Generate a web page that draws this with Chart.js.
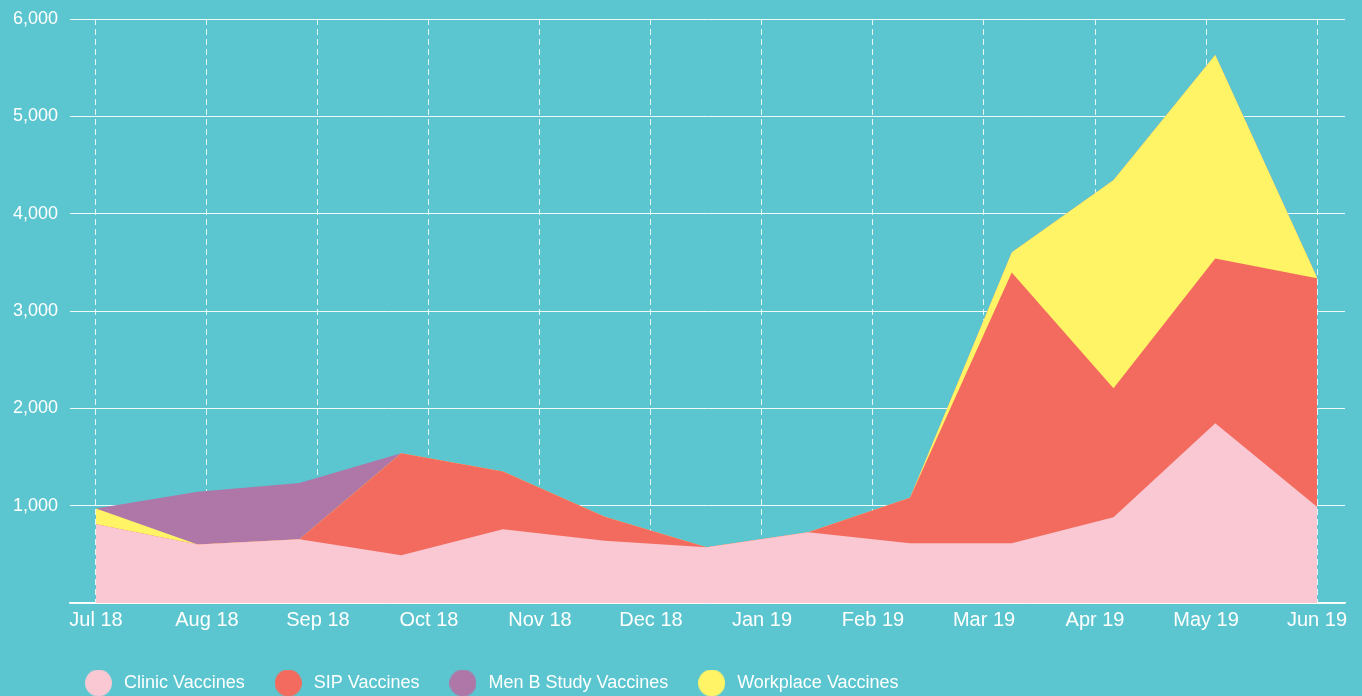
<!doctype html>
<html lang="en">
<head>
    <meta charset="utf-8">
    <title>Vaccines</title>
    <script src="https://cdn.jsdelivr.net/npm/chart.js@4.4.0/dist/chart.umd.min.js"></script>
    <style>
        html, body { margin: 0; padding: 0; background: #5bc6cf; overflow: hidden; }
        #wrap { width: 1362px; height: 696px; position: relative; }
    </style>
</head>
<body>
<div id="wrap"><canvas id="myChart"></canvas></div>
<script>
    // month tick labels on the x axis
    const months = ['Jul 18', 'Aug 18', 'Sep 18', 'Oct 18', 'Nov 18', 'Dec 18', 'Jan 19', 'Feb 19', 'Mar 19', 'Apr 19', 'May 19', 'Jun 19']

    // 13 reporting periods, stacked bottom to top: clinic, sip, workplace, men b
    const clinic = [810, 600, 655, 490, 757, 640, 572, 727, 613, 613, 881, 1847, 990]
    const sip = [0, 0, 0, 1048, 593, 247, 0, 0, 469, 2782, 1325, 1692, 2347]
    const workplace = [160, 0, 0, 0, 0, 0, 0, 0, 0, 209, 2141, 2093, 10]
    const menB = [0, 544, 578, 0, 0, 0, 0, 0, 0, 0, 0, 0, 0]

    const legendOrder = ['Clinic Vaccines', 'SIP Vaccines', 'Men B Study Vaccines', 'Workplace Vaccines']

    Chart.defaults.font.family = '"Liberation Sans", Arial, sans-serif'
    Chart.defaults.color = '#fff'

    function points(values) {
        return values.map((v, i) => ({x: i, y: v}))
    }

    function area(label, values, color) {
        return {
            label: label,
            data: points(values),
            backgroundColor: color,
            borderColor: color,
            borderWidth: 0,
            pointRadius: 0,
            tension: 0,
            fill: 'origin'
        }
    }

    // round legend marker
    function dot(color) {
        const c = document.createElement('canvas')
        c.width = 27
        c.height = 27
        const g = c.getContext('2d')
        g.fillStyle = color
        g.beginPath()
        g.arc(13.5, 13.5, 13.5, 0, Math.PI * 2)
        g.fill()
        return c
    }

    const data = {
        datasets: [
            area('Clinic Vaccines', clinic, '#f9c8d3'),
            area('SIP Vaccines', sip, '#f26b5e'),
            area('Workplace Vaccines', workplace, '#fff466'),
            area('Men B Study Vaccines', menB, '#ae77a8')
        ]
    }

    const config = {
        type: 'line',
        data: data,
        options: {
            responsive: true,
            maintainAspectRatio: false,
            animation: false,
            layout: {padding: {left: 55, right: 17, top: 19, bottom: 0}},
            scales: {
                x: {
                    type: 'linear',
                    min: -0.255,
                    max: 12.275,
                    z: 1,
                    afterBuildTicks: scale => {
                        scale.ticks = months.map((m, i) => ({value: i * 12 / 11}))
                    },
                    afterFit: scale => {
                        scale.height = 44
                    },
                    ticks: {
                        callback: (v, i) => months[i],
                        color: '#fff',
                        font: {size: 20},
                        padding: 5,
                        autoSkip: false,
                        maxRotation: 0
                    },
                    grid: {color: 'rgba(255,255,255,0.85)', lineWidth: 1, drawTicks: false},
                    border: {display: true, color: '#fff', width: 1.5, dash: [6, 4]}
                },
                y: {
                    stacked: true,
                    min: 0,
                    max: 6000,
                    z: 1,
                    afterFit: scale => {
                        scale.width = 15
                    },
                    ticks: {
                        stepSize: 1000,
                        color: '#fff',
                        font: {size: 18},
                        mirror: true,
                        crossAlign: 'far',
                        padding: -57,
                        callback: v => v === 0 ? '' : v.toLocaleString('en-US')
                    },
                    grid: {color: 'rgba(255,255,255,0.9)', lineWidth: 1, drawTicks: false},
                    border: {display: false}
                }
            },
            plugins: {
                tooltip: {enabled: false},
                legend: {
                    position: 'bottom',
                    align: 'start',
                    maxHeight: 49,
                    labels: {
                        color: '#fff',
                        font: {size: 18},
                        usePointStyle: true,
                        pointStyleWidth: 33,
                        padding: 27,
                        generateLabels: chart => Chart.defaults.plugins.legend.labels.generateLabels(chart)
                            .map(l => Object.assign(l, {pointStyle: dot(l.fillStyle)})),
                        sort: (a, b) => legendOrder.indexOf(a.text) - legendOrder.indexOf(b.text)
                    }
                }
            }
        }
    }

    const ctx = document.getElementById('myChart')
    const myChart = new Chart(ctx, config)
</script>
</body>
</html>
